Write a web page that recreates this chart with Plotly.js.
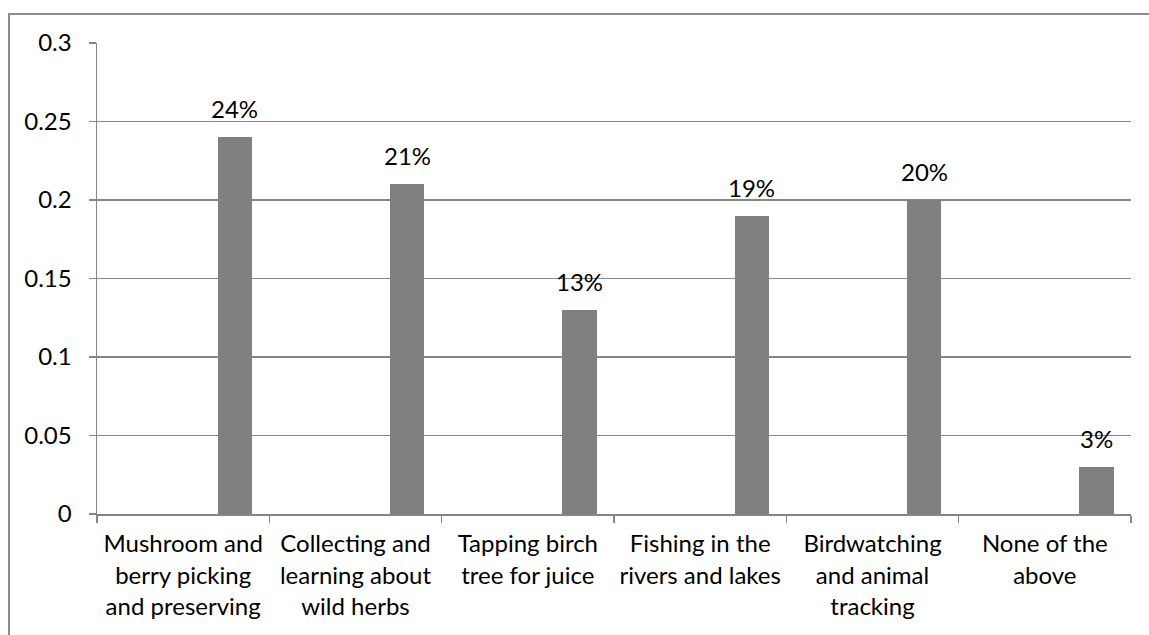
<!DOCTYPE html>
<html>
<head>
<meta charset="utf-8">
<script src="https://cdn.plot.ly/plotly-3.0.1.min.js"></script>
<style>
  html, body { margin: 0; padding: 0; background: #fff; }
  #wrap { position: relative; width: 1149px; height: 635px; overflow: hidden; }
  #frame { position: absolute; left: 8px; top: 13px; width: 1200px; height: 700px;
           border-top: 2px solid #8c8c8c; border-left: 2px solid #8c8c8c; box-sizing: border-box; pointer-events: none; }
  #chart { position: absolute; left: 0; top: 0; width: 1149px; height: 635px; }
</style>
</head>
<body>
<div id="wrap">
  <div id="chart"></div>
  <div id="frame"></div>
</div>
<script>
// Activities and share of respondents
const categories = [
  'Mushroom and<br>berry picking<br>and preserving',
  'Collecting and<br>learning about<br>wild herbs',
  'Tapping birch<br>tree for juice',
  'Fishing in the<br>rivers and lakes',
  'Birdwatching<br>and animal<br>tracking',
  'None of the<br>above'
];
const shares = [0.24, 0.21, 0.13, 0.19, 0.20, 0.03];
const yTicks = [0, 0.05, 0.1, 0.15, 0.2, 0.25, 0.3];
const yTickLabels = ['0', '0.05', '0.1', '0.15', '0.2', '0.25', '0.3'];

const FONT = 'Lato, "Open Sans", sans-serif';
const FONT_SIZE = 24;
const AXIS_GREY = '#868686';

const barWidth = 0.2;
const barOffset = 0.2;

const trace = {
  type: 'bar',
  x: categories,
  y: shares,
  width: barWidth,
  offset: barOffset,
  marker: { color: '#808080', line: { width: 0 } },
  hoverinfo: 'none'
};

// value labels above each bar
const annotations = shares.map((v, i) => ({
  x: i + barOffset + barWidth / 2,
  y: v,
  xref: 'x',
  yref: 'y',
  text: Math.round(v * 100) + '%',
  showarrow: false,
  yanchor: 'bottom',
  yshift: 12,
  font: { family: FONT, size: FONT_SIZE, color: '#000' }
}));

const layout = {
  width: 1149,
  height: 635,
  margin: { l: 97, r: 18, t: 43, b: 121 },
  paper_bgcolor: 'rgba(0,0,0,0)',
  plot_bgcolor: 'rgba(0,0,0,0)',
  showlegend: false,
  bargap: 0,
  font: { family: FONT, size: FONT_SIZE, color: '#000' },
  xaxis: {
    type: 'category',
    range: [-0.5, categories.length - 0.5],
    tickson: 'boundaries',
    ticks: 'outside',
    ticklen: 7,
    tickcolor: AXIS_GREY,
    tickwidth: 1.5,
    ticklabelstandoff: 8,
    showline: true,
    linecolor: AXIS_GREY,
    linewidth: 1.5,
    showgrid: false,
    zeroline: false,
    tickangle: 0,
    tickfont: { family: FONT, size: FONT_SIZE, color: '#000' },
    fixedrange: true
  },
  yaxis: {
    range: [0, 0.3],
    tickvals: yTicks,
    ticktext: yTickLabels,
    ticks: 'outside',
    ticklen: 7,
    tickcolor: AXIS_GREY,
    tickwidth: 1.5,
    ticklabelstandoff: 12,
    showline: true,
    linecolor: AXIS_GREY,
    linewidth: 1.5,
    showgrid: true,
    gridcolor: AXIS_GREY,
    gridwidth: 1.5,
    zeroline: false,
    tickfont: { family: FONT, size: FONT_SIZE, color: '#000' },
    fixedrange: true
  },
  annotations: annotations
};

Plotly.newPlot('chart', [trace], layout, { displayModeBar: false, staticPlot: true });
</script>
</body>
</html>
